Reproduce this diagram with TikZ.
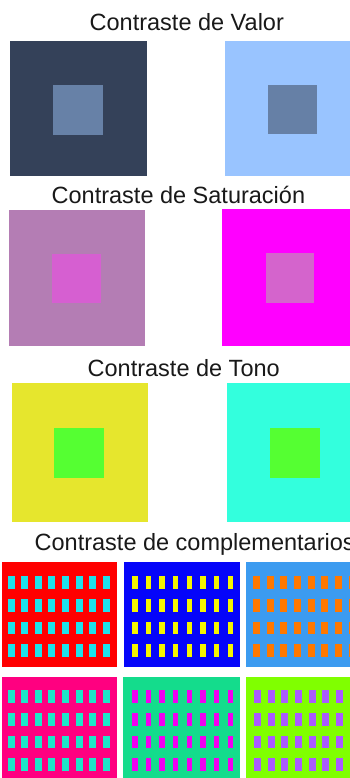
\documentclass[tikz,border=0pt]{standalone}
\usepackage{fontspec}
\setmainfont{Liberation Sans}
\definecolor{vdark}{RGB}{52,65,89}
\definecolor{vdarkin}{RGB}{103,129,167}
\definecolor{vlight}{RGB}{153,196,255}
\definecolor{vlightin}{RGB}{102,128,166}
\definecolor{smuted}{RGB}{180,125,180}
\definecolor{smutedin}{RGB}{214,95,209}
\definecolor{sfull}{RGB}{255,0,255}
\definecolor{sfullin}{RGB}{212,100,204}
\definecolor{tyellow}{RGB}{230,230,45}
\definecolor{tcyan}{RGB}{51,255,221}
\definecolor{tgreen}{RGB}{85,255,50}
\definecolor{cred}{RGB}{255,0,0}
\definecolor{ccyan}{RGB}{30,225,235}
\definecolor{cblue}{RGB}{5,5,250}
\definecolor{cyellow}{RGB}{245,245,0}
\definecolor{clblue}{RGB}{60,155,240}
\definecolor{corange}{RGB}{255,120,0}
\definecolor{cpink}{RGB}{255,0,128}
\definecolor{cteal}{RGB}{30,230,200}
\definecolor{cgreen}{RGB}{20,220,140}
\definecolor{cmag}{RGB}{240,0,240}
\definecolor{clime}{RGB}{128,255,0}
\definecolor{cpurple}{RGB}{170,90,255}
\tikzset{title/.style={anchor=base west,inner sep=0pt,font=\fontsize{23.5}{28}\selectfont,text=black!90}}
\begin{document}
\begin{tikzpicture}[x=1pt,y=-1pt]
\useasboundingbox (0,0) rectangle (350,778);
\fill[white] (0,0) rectangle (350,778);
% Valor
\node[title] (t1) at (89.5,31) {Contraste de Valor};
\fill[vdark] (10,41) rectangle (147,176);
\fill[vdarkin] (53,85) rectangle (103,135);
\fill[vlight] (225,41) rectangle (350,176);
\fill[vlightin] (268,85) rectangle (317,134);
% Saturacion
\node[title] (t2) at (51.5,203) {Contraste de Saturación};
\fill[smuted] (9,210) rectangle (145,346);
\fill[smutedin] (52,254) rectangle (101,303);
\fill[sfull] (222,209) rectangle (350,346);
\fill[sfullin] (266,253) rectangle (314,303);
% Tono
\node[title] (t3) at (87.5,376) {Contraste de Tono};
\fill[tyellow] (12,383) rectangle (148,522);
\fill[tgreen] (54,428) rectangle (104,478);
\fill[tcyan] (227,383) rectangle (350,522);
\fill[tgreen] (270,428) rectangle (320,478);
% Complementarios
\node[title] (t4) at (34.5,550) {Contraste de complementarios};
\foreach \bx/\by/\bw/\bh/\sx/\sy/\w/\bg/\fg in {
  2/562/115/105/7.5/576/7/cred/ccyan,
  124/562/116/105/132/576/5.5/cblue/cyellow,
  246/562/110/105/253/576/7/clblue/corange,
  2/677/115/105/7.5/690/7/cpink/cteal,
  123/677/117/105/132/690/5.5/cgreen/cmag,
  246/677/110/105/254/690/7/clime/cpurple}{
  \fill[\bg] (\bx,\by) rectangle ++(\bw,\bh);
  \foreach \i in {0,...,7}{
    \foreach \j in {0,...,3}{
      \fill[\fg] ({\sx+\i*13.65},{\sy+\j*22.8}) rectangle ++(\w,12.8);
    }
  }
}
\end{tikzpicture}
\end{document}
